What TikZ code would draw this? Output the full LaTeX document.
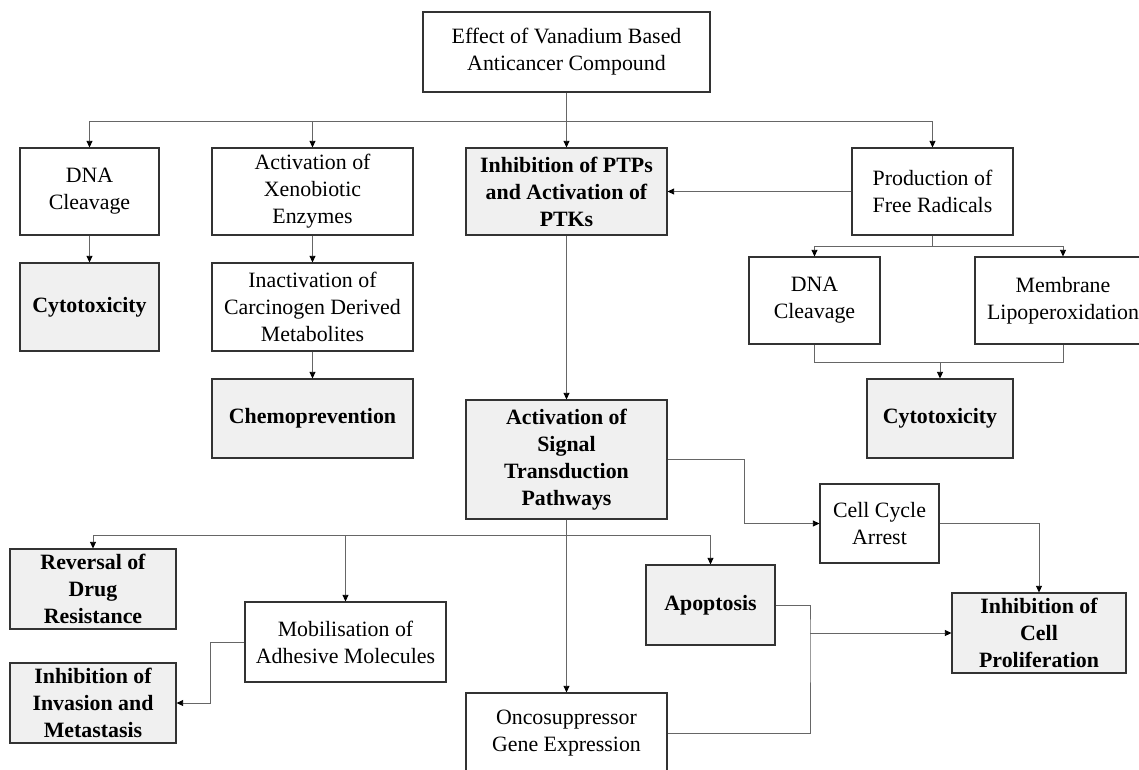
\documentclass[tikz,border=0pt]{standalone}
\usepackage{fontspec}
\setmainfont{Liberation Serif}
\usetikzlibrary{arrows.meta}

\begin{document}
\begin{tikzpicture}[
x=0.75pt, y=-0.75pt,
wh/.style 2 args={minimum width=#1*0.75pt, minimum height=#2*0.75pt},
box/.style={draw=black!80, line width=0.8pt, fill=white, align=center, inner sep=0pt, font=\fontsize{16.4}{20.3}\selectfont},
keybox/.style={box, fill=black!6, font=\fontsize{16.4}{20.3}\selectfont\bfseries},
link/.style={draw=black!60, line width=0.7pt},
arrow/.style={link, -{Triangle[length=5pt,width=4.5pt,color=black]}} ]

\path[use as bounding box, fill=white] (0,0) rectangle (1139,769);

\node[box, wh={287}{80}] (Eff) at (566.5,52) {Effect of Vanadium Based\\Anticancer Compound};

\node[box, wh={139}{87}] (DNA1) at (89.5,191.5) {DNA\\Cleavage};

\node[box, wh={201}{87}] (Xeno) at (312.5,191.5) {Activation of\\Xenobiotic\\Enzymes};

\node[keybox, wh={201}{87}] (PTP) at (566.5,191.5) {Inhibition of PTPs\\and Activation of\\PTKs};

\node[box, wh={161}{87}] (Rad) at (932.5,191.5) {Production of\\Free Radicals};

\node[keybox, wh={139}{88}] (Cyt1) at (89.5,307) {Cytotoxicity};

\node[box, wh={201}{88}] (Inact) at (312.5,307) {Inactivation of\\Carcinogen Derived\\Metabolites};

\node[keybox, wh={201}{79}] (Chemo) at (312.5,418.5) {Chemoprevention};

\node[box, wh={131}{87}] (DNA2) at (814.5,300.5) {DNA\\Cleavage};

\node[box, wh={176}{87}] (Memb) at (1063,300.5) {Membrane\\Lipoperoxidation};

\node[keybox, wh={146}{79}] (Cyt2) at (940,418.5) {Cytotoxicity};

\node[keybox, wh={201}{119}] (Sig) at (566.5,459.5) {Activation of\\Signal\\Transduction\\Pathways};

\node[box, wh={119}{79}] (Arrest) at (879.5,523.5) {Cell Cycle\\Arrest};

\node[keybox, wh={166}{80}] (Drug) at (93,589) {Reversal of\\Drug\\Resistance};

\node[box, wh={201}{80}] (Mob) at (345.5,642) {Mobilisation of\\Adhesive Molecules};

\node[keybox, wh={129}{80}] (Apop) at (710.5,605) {Apoptosis};

\node[keybox, wh={174}{80}] (Prolif) at (1039,633) {Inhibition of\\Cell\\Proliferation};

\node[keybox, wh={166}{80}] (Invas) at (93,703) {Inhibition of\\Invasion and\\Metastasis};

\node[box, wh={201}{80}] (Onco) at (566.5,733) {Oncosuppressor\\Gene Expression};

% first level
\coordinate (T) at (566.5,121);
\draw[arrow] (Eff) -- (PTP);
\draw[arrow] (T) -| (DNA1.north);
\draw[arrow] (T) -| (Xeno.north);
\draw[arrow] (T) -| (Rad.north);
\draw[arrow] (Rad.west) -- (PTP.east);

\draw[arrow] (DNA1) -- (Cyt1);
\draw[arrow] (Xeno) -- (Inact);
\draw[arrow] (Inact) -- (Chemo);
\draw[arrow] (PTP) -- (Sig);

% free radicals
\coordinate (R) at (932.5,246);
\draw[link] (Rad) -- (R);
\draw[arrow] (R) -| (DNA2.north);
\draw[arrow] (R) -| (Memb.north);
\coordinate (J) at (940,362);
\draw[link] (DNA2.south) |- (J) -| (Memb.south);
\draw[arrow] (J) -- (Cyt2);

% signal transduction
\draw[arrow] (Sig.east) -- ++(77,0) |- (Arrest.west);
\draw[arrow] (Arrest.east) -| (Prolif.north);
\coordinate (S) at (566.5,535);
\draw[arrow] (Sig) -- (Onco);
\draw[arrow] (S) -| (Drug.north);
\draw[arrow] (S) -| (Mob.north);
\draw[arrow] (S) -| (Apop.north);
\draw[arrow] (Mob.west) -- ++(-34,0) |- (Invas.east);
\coordinate (M) at (810,633);
\draw[link] (Apop.east) -| (M) |- (Onco.east);
\draw[arrow] (M) -- (Prolif.west);

\end{tikzpicture}
\end{document}
